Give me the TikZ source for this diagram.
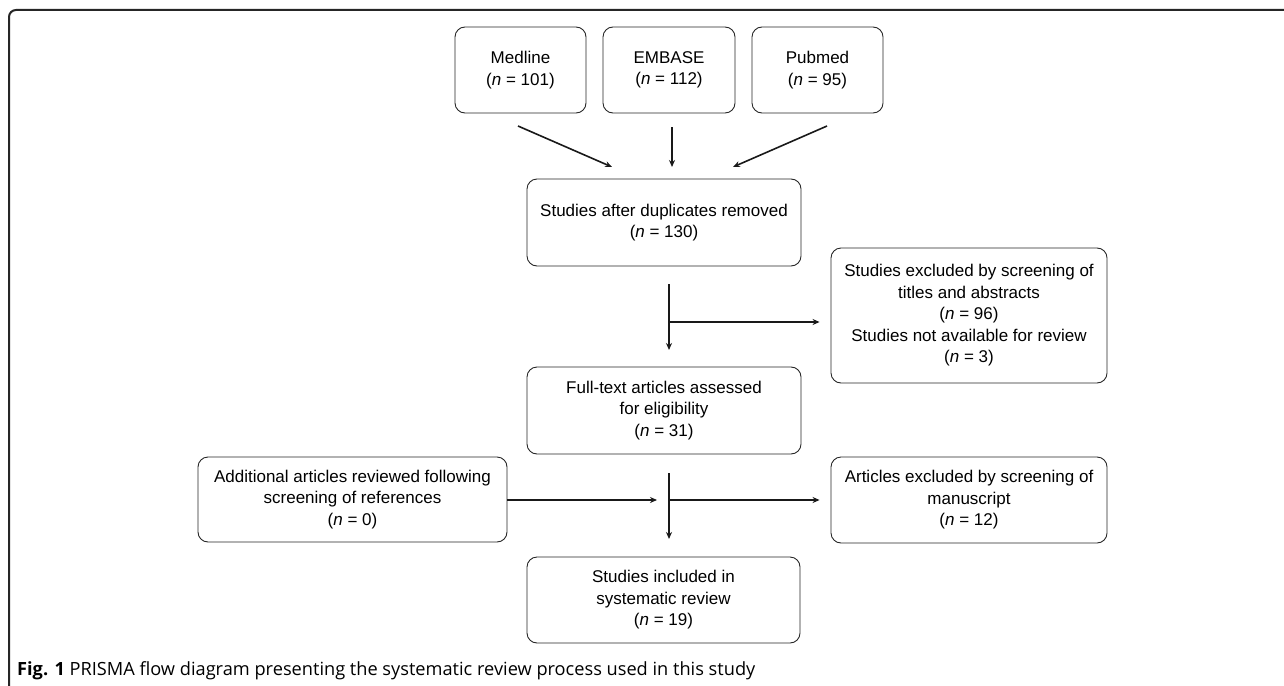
\documentclass[tikz,border=0pt]{standalone}
\usepackage{fontspec}
\setmainfont{Liberation Sans}
\newfontfamily\capfont{Open Sans}
\usetikzlibrary{arrows.meta}
\tikzset{
  box/.style={draw=black!85, line width=0.9pt, rounded corners=10pt, align=center,
    inner sep=0pt, font=\fontsize{17}{21.5}\selectfont},
  arr/.style={draw=black!90, line width=1.6pt, -{Stealth[length=7pt,width=6pt]}},
}
\newcommand{\nn}[1]{(\textit{n} = #1)}
\begin{document}
\begin{tikzpicture}[x=1pt,y=-1pt]
\useasboundingbox (0,0) rectangle (1284,685);
\begin{scope}
\clip (0,0) rectangle (1284,685);
\draw[line width=2pt, black!85, rounded corners=7pt] (9,700) -- (9,10) -- (1300,10);
\end{scope}
% nodes
\node[box, minimum width=131pt, minimum height=86pt] (med) at (520.5,70) {Medline\\\nn{101}};
\node[box, minimum width=132pt, minimum height=86pt] (emb) at (669,70) {EMBASE\\\nn{112}};
\node[box, minimum width=131pt, minimum height=86pt] (pub) at (817.5,70) {Pubmed\\\nn{95}};
\node[box, minimum width=274pt, minimum height=87pt] (dup) at (664,222.5) {Studies after duplicates removed\\\nn{130}};
\node[box, minimum width=276pt, minimum height=135pt] (exc) at (969,315.5) {Studies excluded by screening of\\titles and abstracts\\\nn{96}\\Studies not available for review\\\nn{3}};
\node[box, minimum width=274pt, minimum height=87pt] (full) at (664,410.5) {Full-text articles assessed\\for eligibility\\\nn{31}};
\node[box, minimum width=309pt, minimum height=85pt] (add) at (352.5,499.5) {Additional articles reviewed following\\screening of references\\\nn{0}};
\node[box, minimum width=276pt, minimum height=86pt] (art) at (969,500) {Articles excluded by screening of\\manuscript\\\nn{12}};
\node[box, minimum width=273pt, minimum height=86pt] (inc) at (663.5,600) {Studies included in\\systematic review\\\nn{19}};
\node[anchor=base west, inner sep=0pt, font=\capfont\fontsize{18.2}{20}\selectfont] (cap) at (17,675)
  {\textbf{Fig. 1} PRISMA flow diagram presenting the systematic review process used in this study};
% coordinates
\coordinate (m1) at (518,126);
\coordinate (m2) at (612,167);
\coordinate (e1) at (672,127);
\coordinate (e2) at (672,167);
\coordinate (p1) at (827,126);
\coordinate (p2) at (733,167);
\coordinate (v1a) at (669,284);
\coordinate (v1b) at (669,350);
\coordinate (v1m) at (669,322);
\coordinate (v2a) at (669,473);
\coordinate (v2b) at (669,539);
\coordinate (v2m) at (669,500);
\coordinate (addend) at (657,500);
% connectors
\draw[arr] (m1) -- (m2);
\draw[arr] (e1) -- (e2);
\draw[arr] (p1) -- (p2);
\draw[arr] (v1a) -- (v1b);
\draw[arr] (v1m) -- ([xshift=-11pt]v1m -| exc.west);
\draw[arr] (v2a) -- (v2b);
\draw[arr] (v2m) -- ([xshift=-11pt]v2m -| art.west);
\draw[arr] (add.east |- v2m) -- (addend);
\end{tikzpicture}
\end{document}
